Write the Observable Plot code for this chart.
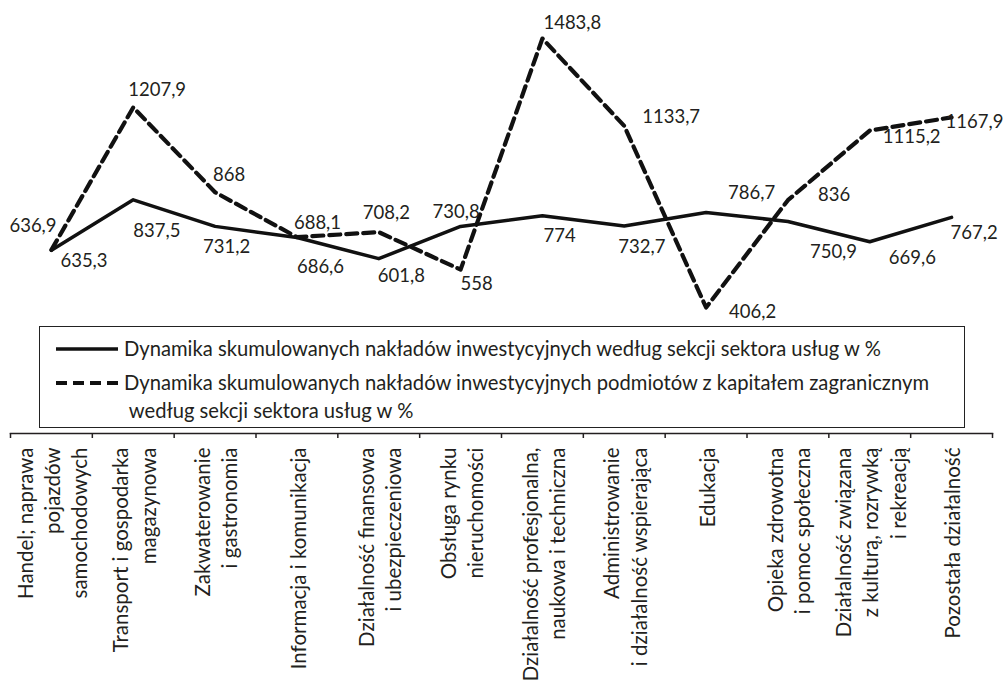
<!DOCTYPE html>
<html>
<head>
<meta charset="utf-8">
<script src="https://cdn.jsdelivr.net/npm/d3@7"></script>
<script src="https://cdn.jsdelivr.net/npm/@observablehq/plot@0.6"></script>
<style>
  body { margin: 0; background: #fff; font-family: Lato, sans-serif; }
  #wrap { position: relative; width: 1003px; height: 683px; overflow: hidden; }
  #legend { position: absolute; left: 39px; top: 326px; width: 926px; height: 102px;
    box-sizing: border-box; border: 1.5px solid #222; background: #fff; color: #231f20; font-size: 20.2px; }
  #legend .row { position: absolute; white-space: nowrap; line-height: 1; }
  #legend svg { position: absolute; }
</style>
</head>
<body>
<div id="wrap">
  <div id="chart"></div>
  <div id="legend"></div>
</div>
<script>
// ---- data ----
const categories = [
  "Handel; naprawa\npojazdów\nsamochodowych",
  "Transport i gospodarka\nmagazynowa",
  "Zakwaterowanie\ni gastronomia",
  "Informacja i komunikacja",
  "Działalność finansowa\ni ubezpieczeniowa",
  "Obsługa rynku\nnieruchomości",
  "Działalność profesjonalna,\nnaukowa i techniczna",
  "Administrowanie\ni działalność wspierająca",
  "Edukacja",
  "Opieka zdrowotna\ni pomoc społeczna",
  "Działalność związana\nz kulturą, rozrywką\ni rekreacją",
  "Pozostała działalność"
];
const solidValues  = [635.3, 837.5, 731.2, 686.6, 601.8, 730.8, 774, 732.7, 786.7, 750.9, 669.6, 767.2];
const dashedValues = [636.9, 1207.9, 868, 688.1, 708.2, 558, 1483.8, 1133.7, 406.2, 836, 1115.2, 1167.9];
const seriesNames = [
  "Dynamika skumulowanych nakładów inwestycyjnych według sekcji sektora usług w %",
  "Dynamika skumulowanych nakładów inwestycyjnych podmiotów z kapitałem zagranicznym",
  " według sekcji sektora usług w %"
];

// ---- label placement (layout, separate from data) ----
const solidLabelOffsets  = [[9,11],[0,31],[-12,21],[0,30],[-1,17],[-28,-14],[1,20],[-6,21],[22,-19],[22,31],[19,16],[-1,16]];
const dashedLabelOffsets = [[-42,-24],[-5,-17],[-2,-17],[-3,-14],[-16,-19],[0,14],[1,-15],[18,-9],[23,5],[30,-5],[13,7],[-6,5]];

const n = categories.length;
const idx = d3.range(n);
const fmt = v => String(v).replace(".", ",");
const solid = idx.map(i => ({x: i + 0.5, v: solidValues[i]}));
const dashed = idx.map(i => ({x: i + 0.5, v: dashedValues[i]}));
const ink = "#231f20";

const labelMarks = (rows, offsets) => rows.map((d, i) =>
  Plot.text([d], {x: "x", y: "v", text: r => fmt(r.v), textAnchor: "start", lineAnchor: "middle",
    dx: offsets[i][0], dy: offsets[i][1], fontSize: 18.5, fill: ink}));

const chart = Plot.plot({
  width: 1003,
  height: 683,
  marginLeft: 10,
  marginRight: 11,
  marginTop: 0,
  marginBottom: 250,
  x: {type: "linear", domain: [0, n]},
  y: {domain: [300, 1500], range: [333.5, 34], axis: null},
  style: {fontFamily: "Lato, sans-serif", color: ink, background: "#fff", overflow: "visible"},
  marks: [
    Plot.frame({anchor: "bottom", stroke: ink, strokeWidth: 1.5}),
    Plot.axisX({ticks: d3.range(n + 1), tickSize: 5, tickFormat: () => "", label: null, stroke: ink, strokeWidth: 1.5}),
    Plot.text(idx, {x: i => i + 0.5, text: i => categories[i], frameAnchor: "bottom", rotate: -90,
      textAnchor: "end", lineAnchor: "middle", lineHeight: 1.33, fontSize: 20.5, dy: 14, fill: ink}),
    Plot.line(solid, {x: "x", y: "v", stroke: "#111", strokeWidth: 3.5}),
    Plot.line(dashed, {x: "x", y: "v", stroke: "#111", strokeWidth: 4.2, strokeDasharray: "11,6"}),
    ...labelMarks(solid, solidLabelOffsets),
    ...labelMarks(dashed, dashedLabelOffsets)
  ]
});
document.getElementById("chart").appendChild(chart);

// ---- legend ----
const legend = document.getElementById("legend");
legend.innerHTML = `
  <svg width="70" height="10" style="left:14px;top:17px">
    <line x1="2" y1="5" x2="64" y2="5" stroke="#111" stroke-width="3.5"/>
  </svg>
  <svg width="70" height="10" style="left:14px;top:51px">
    <line x1="2" y1="5" x2="64" y2="5" stroke="#111" stroke-width="4" stroke-dasharray="11,6"/>
  </svg>
  <div class="row" style="left:84px;top:11px">${seriesNames[0]}</div>
  <div class="row" style="left:84px;top:45px">${seriesNames[1]}</div>
  <div class="row" style="left:84px;top:73px;white-space:pre">${seriesNames[2]}</div>
`;
</script>
</body>
</html>
